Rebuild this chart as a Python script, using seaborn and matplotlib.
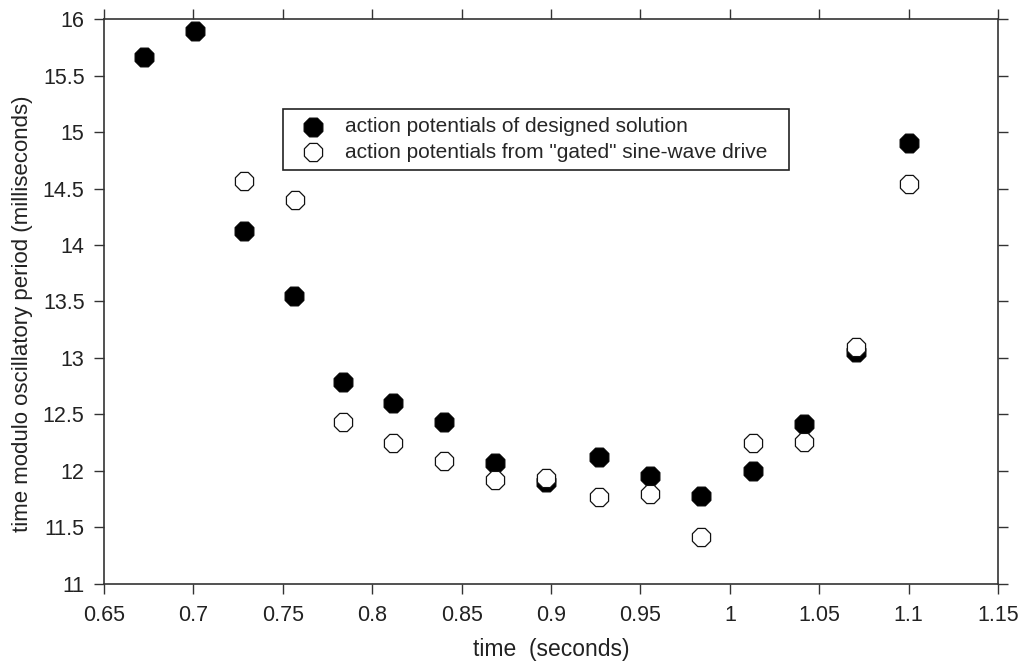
import pandas as pd
import matplotlib
matplotlib.use("Agg")
import matplotlib.pyplot as plt
import seaborn as sns

# values
time_designed = [0.6724, 0.7007, 0.7284, 0.7560, 0.7834, 0.8118, 0.8402, 0.8687,
                 0.8972, 0.9269, 0.9554, 0.9839, 1.0127, 1.0415, 1.0705, 1.1004]
period_designed = [15.66, 15.89, 14.12, 13.55, 12.785, 12.60, 12.43, 12.07,
                   11.90, 12.12, 11.96, 11.78, 12.00, 12.42, 13.05, 14.90]

time_gated = [0.7284, 0.7569, 0.7834, 0.8118, 0.8402, 0.8687, 0.8972, 0.9269,
              0.9554, 0.9839, 1.0127, 1.0415, 1.0705, 1.1000]
period_gated = [14.57, 14.40, 12.43, 12.25, 12.09, 11.92, 11.94, 11.77,
                11.80, 11.42, 12.25, 12.26, 13.10, 14.54]

label_designed = "action potentials of designed solution"
label_gated = 'action potentials from "gated" sine-wave drive'

df_designed = pd.DataFrame({"time": time_designed, "period": period_designed})
df_gated = pd.DataFrame({"time": time_gated, "period": period_gated})

sns.set_style("ticks")
plt.rcParams["font.family"] = ["Liberation Sans", "DejaVu Sans"]

fig = plt.figure(figsize=(10.23, 6.63), dpi=100)
ax = fig.add_axes([0.1017, 0.1192, 0.8739, 0.8521])

sns.scatterplot(data=df_designed, x="time", y="period", ax=ax, marker="8",
                s=215, color="black", edgecolor="black", linewidth=0.8,
                label=label_designed, zorder=2)
sns.scatterplot(data=df_gated, x="time", y="period", ax=ax, marker="8",
                s=200, facecolor="white", edgecolor="#111111", linewidth=0.9,
                label=label_gated, zorder=3)

ax.set_xlim(0.65, 1.15)
ax.set_ylim(11, 16)
ax.set_xticks([0.65, 0.7, 0.75, 0.8, 0.85, 0.9, 0.95, 1, 1.05, 1.1, 1.15])
ax.set_xticklabels(["0.65", "0.7", "0.75", "0.8", "0.85", "0.9", "0.95", "1", "1.05", "1.1", "1.15"])
ax.set_yticks([11, 11.5, 12, 12.5, 13, 13.5, 14, 14.5, 15, 15.5, 16])
ax.set_yticklabels(["11", "11.5", "12", "12.5", "13", "13.5", "14", "14.5", "15", "15.5", "16"])

ax.tick_params(axis="both", direction="out", length=7, width=1, color="#333333",
               labelsize=15.5, labelcolor="#222222",
               top=True, right=True, labeltop=False, labelright=False)
ax.tick_params(axis="x", pad=8)
ax.tick_params(axis="y", pad=7)
for sp in ax.spines.values():
    sp.set_visible(True)
    sp.set_color("#333333")
    sp.set_linewidth(1.2)

ax.set_xlabel("time  (seconds)", fontsize=16.5, color="#222222", labelpad=9)
ax.set_ylabel("time modulo oscillatory period (milliseconds)", fontsize=16,
              color="#222222")
ax.yaxis.set_label_coords(-0.080, 0.478)

leg = ax.legend(loc="upper left", bbox_to_anchor=(0.2002, 0.8407, 0.566, 0),
                mode="expand", borderaxespad=0,
                fancybox=False, frameon=True, fontsize=15, handletextpad=0.48,
                borderpad=0.4, labelspacing=0.3, handlelength=2.1)
leg.get_frame().set_edgecolor("#222222")
leg.get_frame().set_linewidth(1.2)
leg.get_frame().set_alpha(1)

fig.savefig("out.png", dpi=100)
